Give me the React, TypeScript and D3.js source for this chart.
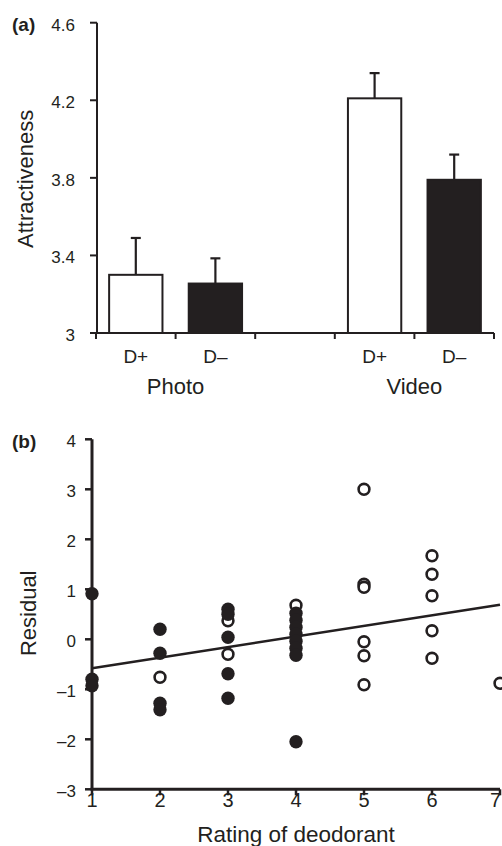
import * as d3 from "d3";

// panel (a): mean attractiveness with upper SE
const barGroups = ["Photo", "Video"];
const barLabels = ["D+", "D–", "D+", "D–"];
const barGroupOf = ["Photo", "Photo", "Video", "Video"];
const barMeans = [3.3, 3.255, 4.21, 3.79];
const barUpper = [3.49, 3.385, 4.34, 3.92];
const barFilled = [false, true, false, true];
const barSlots = ["Photo D+", "Photo D–", "gap", "Video D+", "Video D–"];
const aTicks = [3, 3.4, 3.8, 4.2, 4.6];

// panel (b): residual vs rating of deodorant
const filledRating = [1, 1, 1, 2, 2, 2, 2, 3, 3, 3, 3, 3, 4, 4, 4, 4, 4, 4, 4, 4];
const filledResid = [0.91, -0.8, -0.93, 0.2, -0.28, -1.28, -1.41, 0.6, 0.5, 0.04, -0.69, -1.18, 0.52, 0.38, 0.24, 0.1, -0.04, -0.18, -0.32, -2.05];
const openRating = [2, 3, 3, 4, 5, 5, 5, 5, 5, 5, 6, 6, 6, 6, 6, 7];
const openResid = [-0.76, 0.37, -0.3, 0.68, 3.0, 1.1, 1.04, -0.05, -0.33, -0.91, 1.67, 1.3, 0.87, 0.17, -0.38, -0.88];
const fitRating = [1, 7];
const fitResid = [-0.58, 0.69];
const bXTicks = [1, 2, 3, 4, 5, 6, 7];
const bYTicks = [-3, -2, -1, 0, 1, 2, 3, 4];

const INK = "#231f20";
const FONT = "'Liberation Sans', Arial, Helvetica, sans-serif";

function fmtB(v: number) {
  return v < 0 ? "–" + Math.abs(v) : String(v);
}

export default function App() {
  const W = 502;
  const H = 846;

  // --- scales (a)
  const xA = d3.scaleBand<string>().domain(barSlots).range([96, 494]).padding(0);
  const yA = d3.scaleLinear().domain([3, 4.6]).range([333, 22.7]);
  const slotOf = (i: number) => barGroupOf[i] + " " + barLabels[i];
  const barW = xA.bandwidth() * 0.67;

  // --- scales (b)
  const xB = d3.scaleLinear().domain([1, 7]).range([92, 500]);
  const yB = d3.scaleLinear().domain([-3, 4]).range([789.3, 439.3]);
  const fitLine = d3
    .line<number>()
    .x((d) => xB(d))
    .y((_, i) => yB(fitResid[i]));

  const tickEdges = [...barSlots.map((s) => xA(s)!), xA.range()[1]];

  return (
    <svg
      width={W}
      height={H}
      style={{ position: "absolute", left: 0, top: 0, background: "#fff" }}
      fontFamily={FONT}
      fill={INK}
    >
      {/* ===== panel (a) ===== */}
      <text x={12} y={31} fontSize={19} fontWeight="bold">(a)</text>

      {/* y axis */}
      <line x1={xA.range()[0] + 1} x2={xA.range()[0] + 1} y1={yA(4.6)} y2={yA(3)} stroke={INK} strokeWidth={2} />
      {aTicks.map((t) => (
        <g key={"ya" + t}>
          <line x1={xA.range()[0] - 6} x2={xA.range()[0] + 1} y1={yA(t)} y2={yA(t)} stroke={INK} strokeWidth={2} />
          <text x={75} y={yA(t) + 8} fontSize={17} textAnchor="end">
            {t === 3 ? "3" : t.toFixed(1)}
          </text>
        </g>
      ))}
      <text
        transform={`translate(33,${(yA(3) + yA(4.6)) / 2 + 1}) rotate(-90)`}
        fontSize={22}
        textAnchor="middle"
      >
        Attractiveness
      </text>

      {/* bars */}
      {barMeans.map((m, i) => {
        const cx = xA(slotOf(i))! + xA.bandwidth() / 2;
        return (
          <g key={"bar" + i}>
            <line x1={cx} x2={cx} y1={yA(m)} y2={yA(barUpper[i])} stroke={INK} strokeWidth={2.2} />
            <line x1={cx - 5} x2={cx + 5} y1={yA(barUpper[i])} y2={yA(barUpper[i])} stroke={INK} strokeWidth={2.2} />
            <rect
              x={cx - barW / 2}
              y={yA(m)}
              width={barW}
              height={yA(3) - yA(m)}
              fill={barFilled[i] ? INK : "#fff"}
              stroke={INK}
              strokeWidth={2}
            />
          </g>
        );
      })}

      {/* x axis */}
      <line x1={xA.range()[0]} x2={xA.range()[1]} y1={yA(3)} y2={yA(3)} stroke={INK} strokeWidth={2} />
      {tickEdges.map((x, i) => (
        <line key={"xa" + i} x1={x} x2={x} y1={yA(3)} y2={yA(3) + 6} stroke={INK} strokeWidth={2} />
      ))}
      {barLabels.map((l, i) => (
        <text
          key={"xl" + i}
          x={xA(slotOf(i))! + xA.bandwidth() / 2}
          y={363}
          fontSize={19}
          textAnchor="middle"
        >
          {l}
        </text>
      ))}
      {barGroups.map((g) => {
        const a = xA(g + " D+")!;
        const b = xA(g + " D–")! + xA.bandwidth();
        return (
          <text key={g} x={(a + b) / 2} y={394} fontSize={22} textAnchor="middle">
            {g}
          </text>
        );
      })}

      {/* ===== panel (b) ===== */}
      <text x={12} y={448} fontSize={19} fontWeight="bold">(b)</text>

      <line x1={xB(1)} x2={xB(1)} y1={yB(4)} y2={yB(-3)} stroke={INK} strokeWidth={3} />
      {bYTicks.map((t) => (
        <g key={"yb" + t}>
          <line x1={xB(1) - 7} x2={xB(1)} y1={yB(t)} y2={yB(t)} stroke={INK} strokeWidth={2.5} />
          <text x={76} y={yB(t) + 7.5} fontSize={17} textAnchor="end">
            {fmtB(t)}
          </text>
        </g>
      ))}
      <text
        transform={`translate(36,${yB(0.5) - 1}) rotate(-90)`}
        fontSize={22}
        textAnchor="middle"
      >
        Residual
      </text>

      <line x1={xB(1) - 1.5} x2={xB(7)} y1={yB(-3)} y2={yB(-3)} stroke={INK} strokeWidth={3} />
      {bXTicks.map((t) => {
        const last = t === bXTicks[bXTicks.length - 1];
        return (
          <g key={"xb" + t}>
            <line x1={xB(t)} x2={xB(t)} y1={yB(-3)} y2={yB(-3) + 6} stroke={INK} strokeWidth={2.5} />
            <text
              x={last ? W - 1 : xB(t)}
              y={806.5}
              fontSize={20}
              textAnchor={last ? "end" : "middle"}
            >
              {t}
            </text>
          </g>
        );
      })}
      <text x={(xB(1) + xB(7)) / 2} y={842} fontSize={22.5} textAnchor="middle">
        Rating of deodorant
      </text>

      {/* open circles first, filled drawn over them */}
      {openRating.map((r, i) => (
        <circle key={"o" + i} cx={xB(r)} cy={yB(openResid[i])} r={5.4} fill="#fff" stroke={INK} strokeWidth={2.6} />
      ))}
      <path d={fitLine(fitRating) ?? ""} fill="none" stroke={INK} strokeWidth={2.5} />
      {filledRating.map((r, i) => (
        <circle key={"f" + i} cx={xB(r)} cy={yB(filledResid[i])} r={6.7} fill={INK} />
      ))}
    </svg>
  );
}
